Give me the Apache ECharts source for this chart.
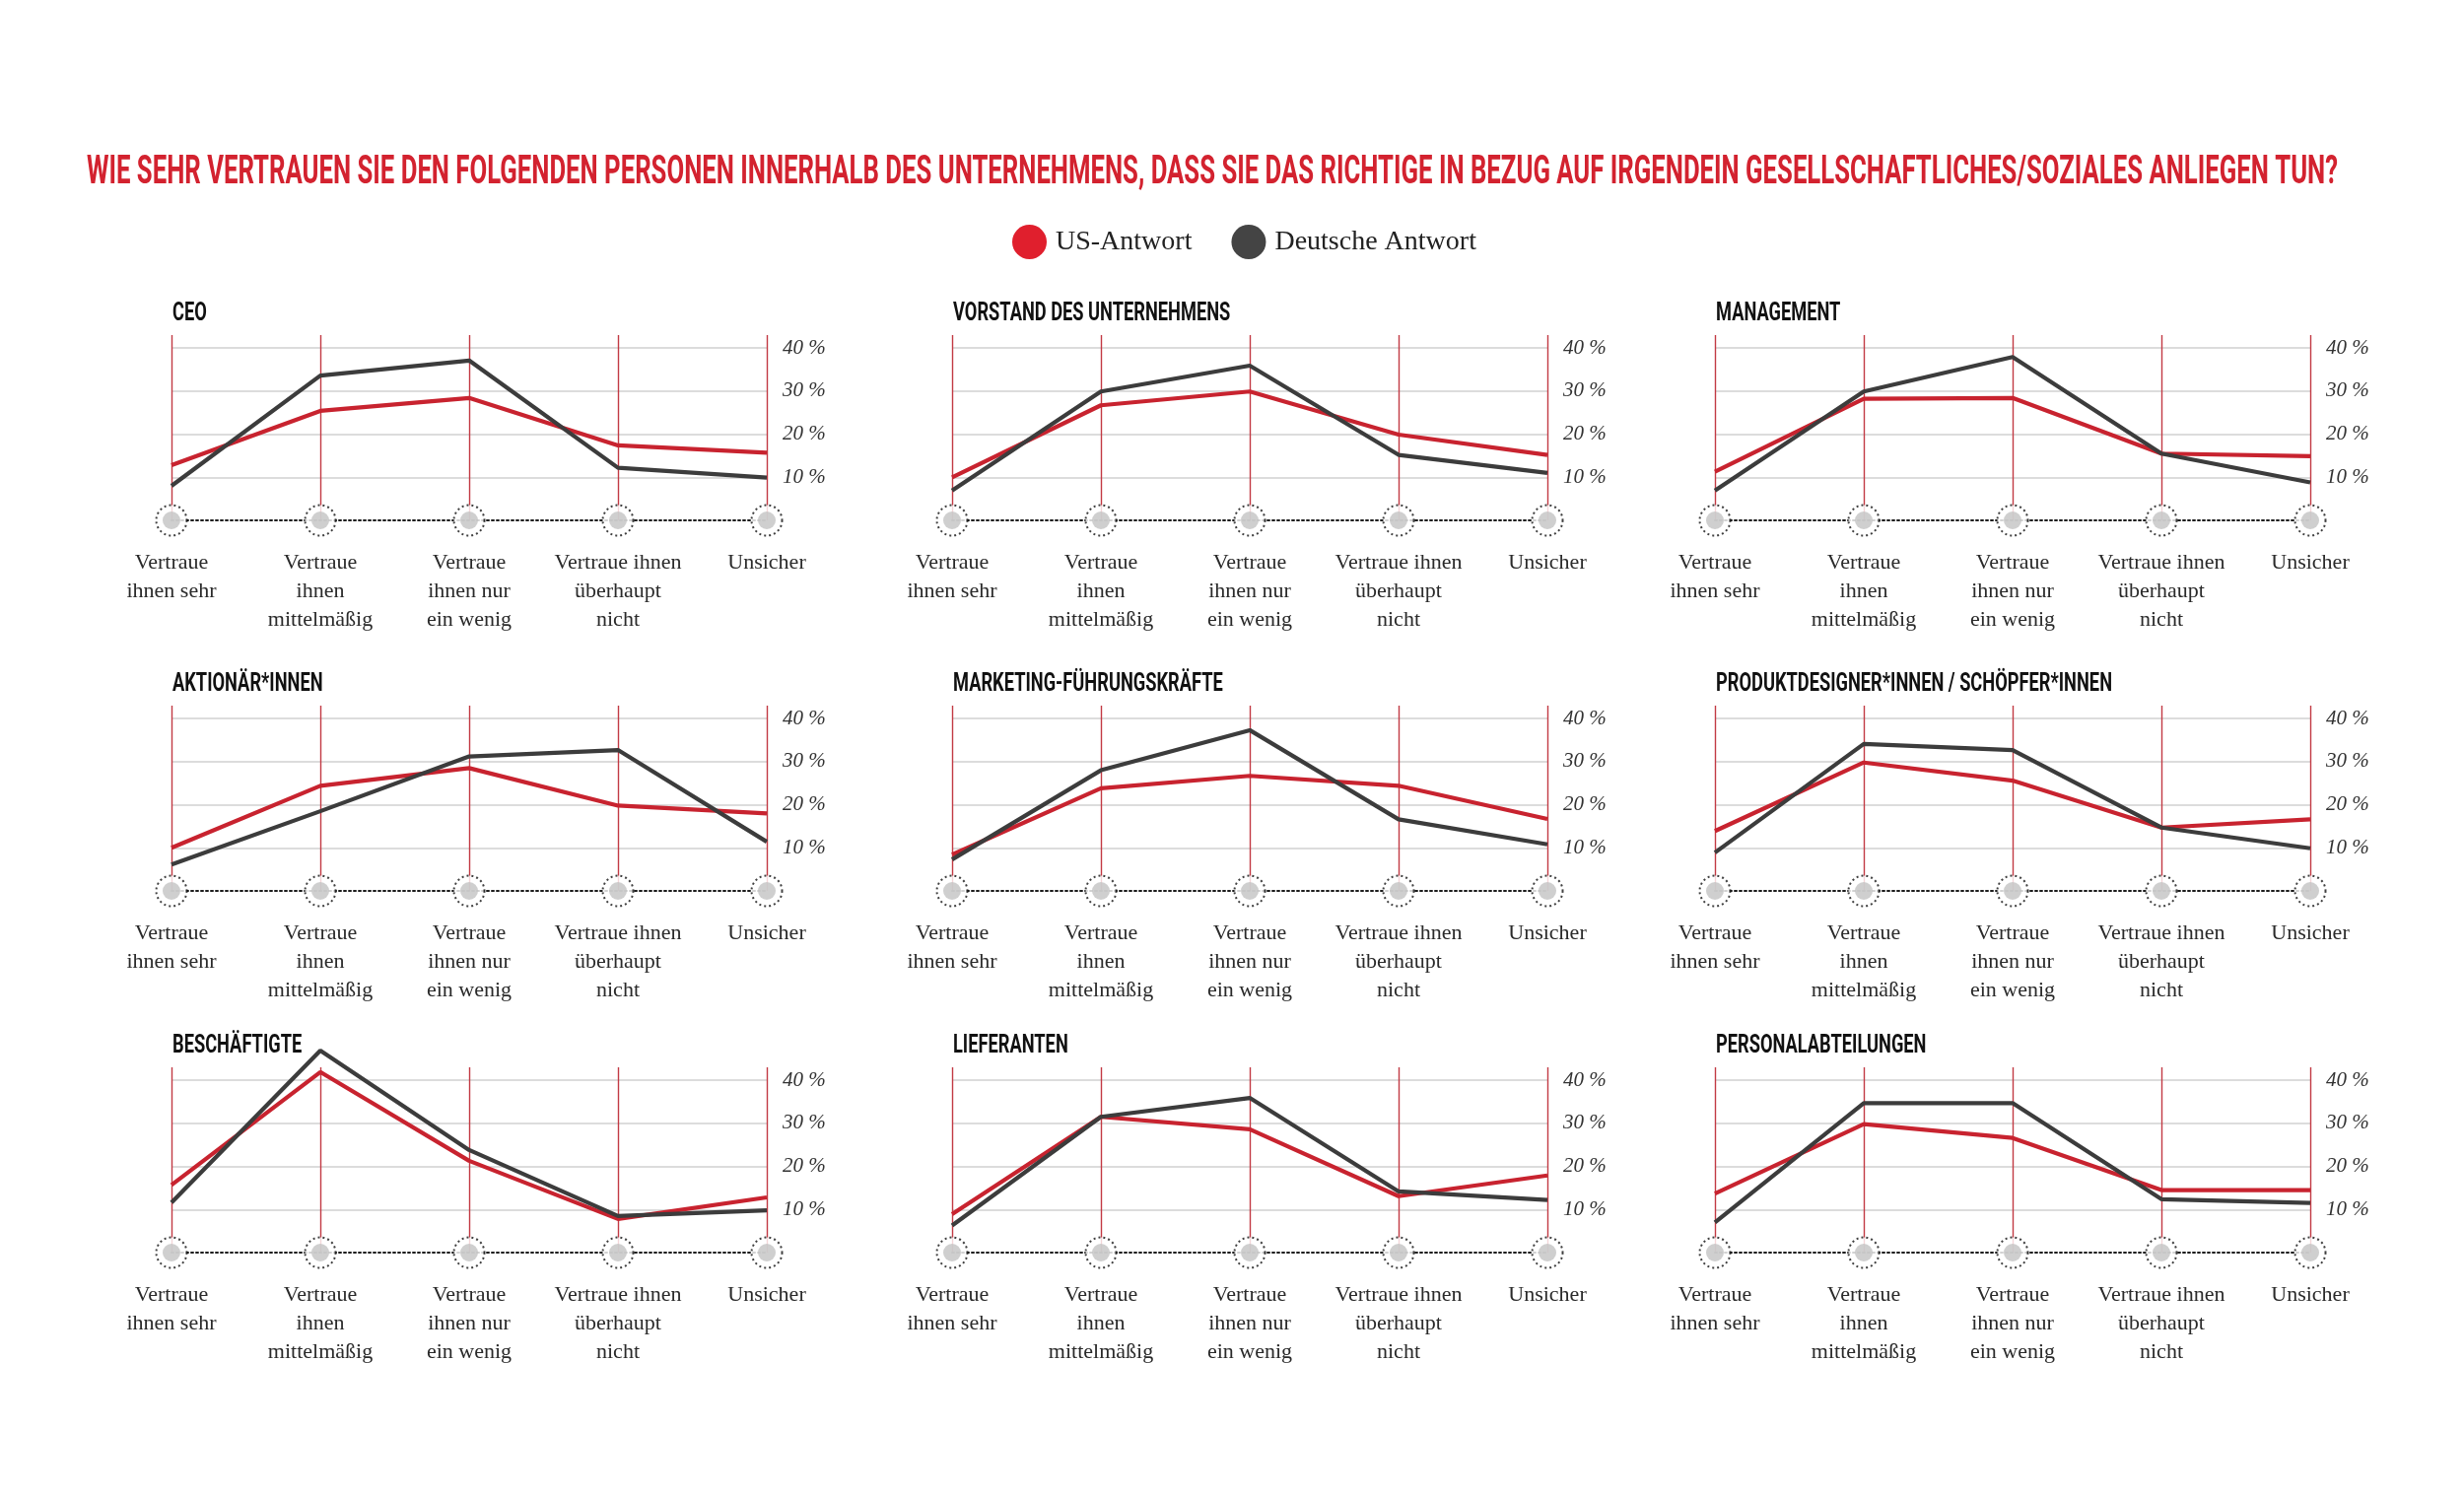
<!DOCTYPE html>
<html><head><meta charset="utf-8">
<script src="https://cdn.jsdelivr.net/npm/echarts@6/dist/echarts.min.js"></script>
<style>html,body{margin:0;padding:0;background:#fff}#c{width:2500px;height:1519px}</style>
</head><body><div id="c"></div>
<script>
const mainTitle = 'WIE SEHR VERTRAUEN SIE DEN FOLGENDEN PERSONEN INNERHALB DES UNTERNEHMENS, DASS SIE DAS RICHTIGE IN BEZUG AUF IRGENDEIN GESELLSCHAFTLICHES/SOZIALES ANLIEGEN TUN?';
const seriesNames = ['US-Antwort', 'Deutsche Antwort'];
const categories = ['Vertraue\nihnen sehr', 'Vertraue\nihnen\nmittelmäßig', 'Vertraue\nihnen nur\nein wenig', 'Vertraue ihnen\nüberhaupt\nnicht', 'Unsicher'];
const panelTitles = ['CEO', 'VORSTAND DES UNTERNEHMENS', 'MANAGEMENT', 'AKTIONÄR*INNEN', 'MARKETING-FÜHRUNGSKRÄFTE', 'PRODUKTDESIGNER*INNEN / SCHÖPFER*INNEN', 'BESCHÄFTIGTE', 'LIEFERANTEN', 'PERSONALABTEILUNGEN'];
const baseDots = [0, 0, 0, 0, 0];

const usCEO = [12.8, 25.4, 28.4, 17.4, 15.7];
const deCEO = [8.0, 33.6, 37.1, 12.2, 9.9];
const usVorstand = [10.0, 26.7, 29.9, 19.9, 15.2];
const deVorstand = [6.9, 29.9, 35.9, 15.2, 11.0];
const usManagement = [11.3, 28.2, 28.4, 15.5, 14.9];
const deManagement = [6.9, 29.9, 37.9, 15.5, 8.8];
const usAktionaere = [10.0, 24.4, 28.5, 19.8, 18.0];
const deAktionaere = [6.1, 18.5, 31.2, 32.7, 11.4];
const usMarketing = [8.4, 23.8, 26.7, 24.4, 16.7];
const deMarketing = [7.3, 28.0, 37.3, 16.6, 10.8];
const usProdukt = [13.9, 29.8, 25.6, 14.7, 16.6];
const deProdukt = [8.9, 34.1, 32.7, 14.7, 9.9];
const usBeschaeftigte = [15.7, 41.9, 21.3, 7.8, 12.8];
const deBeschaeftigte = [11.6, 46.9, 23.8, 8.5, 9.8];
const usLieferanten = [8.9, 31.5, 28.6, 13.1, 17.9];
const deLieferanten = [6.3, 31.5, 35.9, 14.2, 12.2];
const usPersonal = [13.7, 29.8, 26.6, 14.5, 14.5];
const dePersonal = [7.0, 34.7, 34.7, 12.4, 11.5];

const usData = [usCEO, usVorstand, usManagement, usAktionaere, usMarketing, usProdukt, usBeschaeftigte, usLieferanten, usPersonal];
const deData = [deCEO, deVorstand, deManagement, deAktionaere, deMarketing, deProdukt, deBeschaeftigte, deLieferanten, dePersonal];

// layout
const colLeft = [174, 966, 1740];
const gridWidth = 604;
const rowTop = [340, 716, 1083];
const gridHeight = 188;
const titleY = [319, 695, 1062];

const RED = '#c8232f';
const DARK = '#3c3c3c';
const SERIF = "'Liberation Serif', 'DejaVu Serif', serif";

function fitScale(text, font, target) {
  const ctx = document.createElement('canvas').getContext('2d');
  ctx.font = font;
  return target / ctx.measureText(text).width;
}
const titleFont = 'bold 40px Roboto';
const titleScale = fitScale(mainTitle, titleFont, 2284);
const panelFont = 'bold 25px Roboto';
const panelScale = fitScale(panelTitles[5], panelFont, 402);

const grids = [], xAxes = [], yAxes = [], series = [], graphics = [];
graphics.push({type: 'text', x: 1230, y: 176, scaleX: titleScale, style: {text: mainTitle, font: titleFont, fill: '#d3222f', textAlign: 'center', textVerticalAlign: 'middle'}});

for (let i = 0; i < 9; i++) {
  const r = Math.floor(i / 3), c = i % 3;
  grids.push({left: colLeft[c], top: rowTop[r], width: gridWidth, height: gridHeight, outerBoundsMode: 'none', containLabel: false});
  xAxes.push({
    type: 'category', gridIndex: i, data: categories, boundaryGap: false,
    axisLine: {show: true, lineStyle: {color: '#1e1e1e', width: 2, type: [2, 3]}},
    axisTick: {show: false},
    splitLine: {show: true, interval: 0, lineStyle: {color: '#c23a44', width: 1.4}},
    axisLabel: {interval: 0, margin: 29, fontFamily: SERIF, fontSize: 22, lineHeight: 29, color: '#2a2a2a', align: 'center'}
  });
  yAxes.push({
    type: 'value', gridIndex: i, min: 0, max: 43, interval: 10, position: 'right',
    axisLine: {show: false}, axisTick: {show: false},
    splitLine: {show: true, showMinLine: false, showMaxLine: false, lineStyle: {color: '#dcdcdc', width: 2}},
    axisLabel: {showMinLabel: false, showMaxLabel: false, formatter: '{value} %', margin: 16, fontFamily: SERIF, fontStyle: 'italic', fontSize: 21, color: '#333', padding: [0, 0, 5, 0]}
  });
  series.push({type: 'scatter', xAxisIndex: i, yAxisIndex: i, data: baseDots, symbolSize: 31, clip: false, silent: true, z: 3,
    itemStyle: {color: '#fff', borderColor: '#111', borderWidth: 2, borderType: [2, 3]}});
  series.push({type: 'scatter', xAxisIndex: i, yAxisIndex: i, data: baseDots, symbolSize: 18, clip: false, silent: true, z: 4,
    itemStyle: {color: '#c3c3c3'}});
  series.push({type: 'line', name: seriesNames[0], xAxisIndex: i, yAxisIndex: i, data: usData[i], showSymbol: false, symbol: 'none', clip: false, z: 5,
    lineStyle: {color: RED, width: 4.2}, itemStyle: {color: RED}});
  series.push({type: 'line', name: seriesNames[1], xAxisIndex: i, yAxisIndex: i, data: deData[i], showSymbol: false, symbol: 'none', clip: false, z: 6,
    lineStyle: {color: DARK, width: 4.2}, itemStyle: {color: DARK}});
  graphics.push({type: 'text', x: colLeft[c] + 1, y: titleY[r], scaleX: panelScale, style: {text: panelTitles[i], font: panelFont, fill: '#111', textAlign: 'left', textVerticalAlign: 'middle'}});
}

const chart = echarts.init(document.getElementById('c'), null, {renderer: 'canvas'});
chart.setOption({
  backgroundColor: '#fff',
  animation: false,
  legend: {
    data: [{name: seriesNames[0], itemStyle: {color: '#e01f2d'}}, {name: seriesNames[1], itemStyle: {color: '#444'}}],
    left: 1022, top: 223, icon: 'circle', itemWidth: 35, itemHeight: 35, itemGap: 40,
    textStyle: {fontFamily: SERIF, fontSize: 28, color: '#222', padding: [0, 0, 0, 4]},
    selectedMode: false
  },
  grid: grids, xAxis: xAxes, yAxis: yAxes, series: series, graphic: graphics
});
</script></body></html>
